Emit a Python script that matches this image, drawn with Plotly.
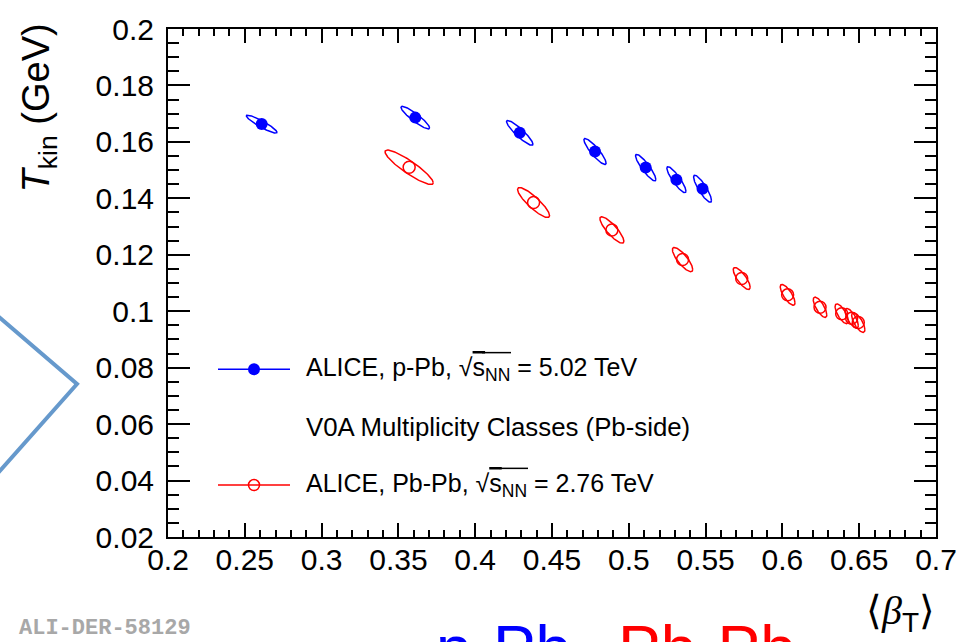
import numpy as np
import plotly.graph_objects as go

# ---- Blast-wave fit results: kinetic freeze-out temperature vs mean transverse flow ----
# p-Pb, sqrt(s_NN) = 5.02 TeV, V0A multiplicity classes
ppb_beta = [0.261, 0.361, 0.429, 0.478, 0.511, 0.531, 0.548]
ppb_tkin = [0.1663, 0.1686, 0.1632, 0.1566, 0.1509, 0.1466, 0.1434]
ppb_err_beta = [0.0100, 0.0093, 0.0086, 0.0072, 0.0066, 0.0062, 0.0058]
ppb_err_tkin = [0.0032, 0.0040, 0.0044, 0.0046, 0.0047, 0.0046, 0.0048]
ppb_corr = [-0.92, -0.91, -0.91, -0.89, -0.89, -0.88, -0.86]

# Pb-Pb, sqrt(s_NN) = 2.76 TeV, centrality classes
pbpb_beta = [0.357, 0.438, 0.489, 0.535, 0.5735, 0.6034, 0.6245, 0.6386, 0.6451, 0.6494]
pbpb_tkin = [0.1510, 0.1385, 0.1288, 0.1183, 0.1116, 0.1058, 0.1014, 0.0991, 0.0975, 0.0960]
pbpb_err_beta = [0.0157, 0.0104, 0.0078, 0.0066, 0.0055, 0.0048, 0.0044, 0.0043, 0.0043, 0.0043]
pbpb_err_tkin = [0.0061, 0.0053, 0.0047, 0.0043, 0.0039, 0.0037, 0.0036, 0.0035, 0.0035, 0.0035]
pbpb_corr = [-0.90, -0.87, -0.85, -0.81, -0.79, -0.76, -0.74, -0.72, -0.72, -0.72]

x_ticks = [0.2, 0.25, 0.3, 0.35, 0.4, 0.45, 0.5, 0.55, 0.6, 0.65, 0.7]
y_ticks = [0.02, 0.04, 0.06, 0.08, 0.1, 0.12, 0.14, 0.16, 0.18, 0.2]

legend_labels = [
    'ALICE, p-Pb, √<span style="text-decoration:overline">s</span><sub>NN</sub> = 5.02 TeV',
    'V0A Multiplicity Classes (Pb-side)',
    'ALICE, Pb-Pb, √<span style="text-decoration:overline">s</span><sub>NN</sub> = 2.76 TeV',
]

BLUE = "#0000ff"
RED = "#ff0000"
FONT = "Liberation Sans, Arial, sans-serif"


def contours(cx, cy, sx, sy, rho, n=140):
    """Closed correlation contours, joined into one path with None breaks."""
    xs, ys = [], []
    t = np.linspace(0.0, 2.0 * np.pi, n)
    for x0, y0, ax, ay, r in zip(cx, cy, sx, sy, rho):
        xs.extend((x0 + ax * np.cos(t)).tolist() + [None])
        ys.extend((y0 + ay * (r * np.cos(t) + np.sqrt(1 - r * r) * np.sin(t))).tolist() + [None])
    return xs, ys


fig = go.Figure()

ex, ey = contours(ppb_beta, ppb_tkin, ppb_err_beta, ppb_err_tkin, ppb_corr)
fig.add_trace(go.Scatter(x=ex, y=ey, mode="lines", line=dict(color=BLUE, width=1.5),
                         hoverinfo="skip", showlegend=False))
ex, ey = contours(pbpb_beta, pbpb_tkin, pbpb_err_beta, pbpb_err_tkin, pbpb_corr)
fig.add_trace(go.Scatter(x=ex, y=ey, mode="lines", line=dict(color=RED, width=1.5),
                         hoverinfo="skip", showlegend=False))

fig.add_trace(go.Scatter(x=ppb_beta, y=ppb_tkin, mode="markers",
                         marker=dict(symbol="circle", size=12, color=BLUE, line=dict(width=0)),
                         showlegend=False))
fig.add_trace(go.Scatter(x=pbpb_beta, y=pbpb_tkin, mode="markers",
                         marker=dict(symbol="circle-open", size=12, color=RED, line=dict(width=1.5)),
                         showlegend=False))

# ---- hand-built legend on an overlay frame spanning the plot area (0..1) ----
L, R, T, B = 168, 936, 19, 537   # plot area in pixels
W, H = R - L, B - T


def fx(px):
    return (px - L) / W


def fy(py):
    return (B - py) / H


leg_rows = [366, 484]
leg_styles = [
    dict(symbol="circle", size=12, color=BLUE, line=dict(width=0)),
    dict(symbol="circle-open", size=11, color=RED, line=dict(width=1.5)),
]
leg_colors = [BLUE, RED]
for row, mk, col in zip(leg_rows, leg_styles, leg_colors):
    fig.add_trace(go.Scatter(x=[fx(218), fx(290)], y=[fy(row)] * 2, mode="lines",
                             line=dict(color=col, width=1.5), xaxis="x2", yaxis="y2",
                             hoverinfo="skip", showlegend=False))
    fig.add_trace(go.Scatter(x=[fx(254)], y=[fy(row)], mode="markers", marker=mk,
                             xaxis="x2", yaxis="y2", hoverinfo="skip", showlegend=False))

for txt, row, fs in zip(legend_labels, [366, 425, 484], [25, 25.8, 25]):
    fig.add_annotation(x=fx(304), y=fy(row), xref="paper", yref="paper", text=txt,
                       showarrow=False, xanchor="left", yanchor="middle",
                       font=dict(family=FONT, size=fs, color="black"))

# overline continuing the root sign across the NN subscript
for x0, x1, yy in [(482, 511, 349), (499, 528, 467)]:
    fig.add_shape(type="line", xref="paper", yref="paper",
                  x0=fx(x0), x1=fx(x1), y0=fy(yy), y1=fy(yy),
                  line=dict(color="black", width=1.5))

# axis titles
fig.add_annotation(x=fx(39), y=fy(100), xref="paper", yref="paper",
                   text="<i>T</i><sub>kin</sub> (GeV)", textangle=-90, showarrow=False,
                   xanchor="center", yanchor="middle",
                   font=dict(family=FONT, size=38, color="black"))
fig.add_annotation(x=fx(937), y=fy(614), xref="paper", yref="paper",
                   text='⟨<i>β</i><sub><span style="font-family:Liberation Sans">T</span></sub>⟩',
                   showarrow=False, xanchor="right", yanchor="middle",
                   font=dict(family="Liberation Serif, serif", size=40, color="black"))

# footer labels
fig.add_annotation(x=fx(17), y=fy(630), xref="paper", yref="paper", text="<b>ALI-DER-58129</b>",
                   showarrow=False, xanchor="left", yanchor="middle",
                   font=dict(family="Liberation Mono, Courier New, monospace", size=22, color="#a8a8a8"))
fig.add_annotation(x=fx(434), y=fy(612), xref="paper", yref="paper", text="p-Pb",
                   showarrow=False, xanchor="left", yanchor="top",
                   font=dict(family=FONT, size=64, color=BLUE))
fig.add_annotation(x=fx(616), y=fy(612), xref="paper", yref="paper", text="Pb-Pb",
                   showarrow=False, xanchor="left", yanchor="top",
                   font=dict(family=FONT, size=64, color=RED))

# chevron decoration at the left edge
fig.add_shape(type="path", xref="paper", yref="paper",
              path=f"M {fx(-3)},{fy(311)} L {fx(77)},{fy(381)} L {fx(-3)},{fy(473)}",
              line=dict(color="#6699cc", width=4))

axis_common = dict(showgrid=False, zeroline=False, showline=True, linecolor="black",
                   linewidth=2, mirror="allticks", ticks="inside", tickcolor="black",
                   tickwidth=2, tickfont=dict(family=FONT, size=30, color="black"))

fig.update_layout(
    width=971, height=642,
    margin=dict(l=L, r=971 - R, t=T, b=642 - B, pad=0),
    paper_bgcolor="white", plot_bgcolor="white",
    showlegend=False,
    xaxis=dict(range=[0.2, 0.7], tickmode="array", tickvals=x_ticks, ticklen=14,
               minor=dict(dtick=0.01, tick0=0.2, ticks="inside", ticklen=7, tickwidth=2,
                          tickcolor="black", showgrid=False),
               ticklabelstandoff=-5, **axis_common),
    yaxis=dict(range=[0.02, 0.2], tickmode="array", tickvals=y_ticks, ticklen=22,
               minor=dict(dtick=0.005, tick0=0.02, ticks="inside", ticklen=11, tickwidth=2,
                          tickcolor="black", showgrid=False),
               ticklabelstandoff=6, **axis_common),
    xaxis2=dict(range=[0, 1], overlaying="x", visible=False, fixedrange=True),
    yaxis2=dict(range=[0, 1], overlaying="y", visible=False, fixedrange=True),
)

fig.write_html("out.html")
